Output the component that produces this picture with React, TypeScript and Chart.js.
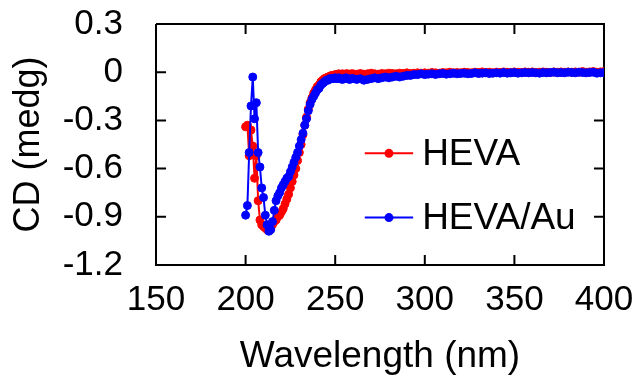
import React, { useEffect, useRef } from "react";
import { Chart, registerables } from "chart.js";

Chart.register(...registerables);

const wavelengths = [
  200, 201, 202, 203, 204, 205, 206, 207, 208, 209,
  210, 211, 212, 213, 214, 215, 216, 217, 218, 219,
  220, 221, 222, 223, 224, 225, 226, 227, 228, 229,
  230, 231, 232, 233, 234, 235, 236, 237, 238, 239,
  240, 241, 242, 243, 244, 245, 246, 247, 248, 249,
  250, 251, 252, 253, 254, 255, 256, 257, 258, 259, 260,
  262, 264, 266, 268, 270, 272, 274, 276, 278, 280,
  282, 284, 286, 288, 290, 292, 294, 296, 298, 300,
  302, 304, 306, 308, 310, 312, 314, 316, 318, 320,
  322, 324, 326, 328, 330, 332, 334, 336, 338, 340,
  342, 344, 346, 348, 350, 352, 354, 356, 358, 360,
  362, 364, 366, 368, 370, 372, 374, 376, 378, 380,
  382, 384, 386, 388, 390, 392, 394, 396, 398, 400,
];

const hevaCD = [
  -0.34, -0.33, -0.52, -0.36, -0.46, -0.66, -0.52, -0.80, -0.92, -0.95,
  -0.96, -0.97, -0.98, -0.98, -0.97, -0.95, -0.93, -0.92, -0.90, -0.89,
  -0.87, -0.85, -0.82, -0.79, -0.76, -0.72, -0.68, -0.64, -0.60, -0.55,
  -0.50, -0.45, -0.39, -0.33, -0.28, -0.23, -0.19, -0.16, -0.13, -0.11,
  -0.09, -0.08, -0.06, -0.05, -0.04, -0.035, -0.03, -0.025, -0.02, -0.02,
  -0.015, -0.015, -0.01, -0.015, -0.01, -0.015, -0.01, -0.01, -0.015, -0.01, -0.01,
  -0.012, -0.008, -0.012, -0.01, -0.006, -0.01, -0.012, -0.008, -0.01, -0.006,
  -0.008, -0.01, -0.006, -0.008, -0.004, -0.008, -0.006, -0.004, -0.006, -0.004,
  -0.006, -0.002, -0.004, -0.006, -0.002, -0.004, 0.0, -0.004, -0.002, -0.004,
  0.0, -0.002, -0.004, 0.0, -0.002, 0.002, -0.002, 0.0, -0.004, 0.0,
  -0.002, 0.002, 0.0, -0.002, 0.002, 0.0, -0.002, 0.002, 0.0, 0.002,
  -0.002, 0.0, 0.002, 0.0, -0.002, 0.002, 0.0, 0.002, 0.0, 0.002,
  0.0, 0.002, 0.0, 0.004, 0.0, 0.002, 0.004, 0.0, 0.002, 0.004,
];

const hevaAuCD = [
  -0.89, -0.83, -0.50, -0.21, -0.03, -0.29, -0.19, -0.50, -0.59, -0.72,
  -0.78, -0.89, -0.95, -0.99, -0.98, -0.93, -0.86, -0.80, -0.77, -0.75,
  -0.72, -0.70, -0.68, -0.66, -0.65, -0.62, -0.59, -0.56, -0.53, -0.50,
  -0.46, -0.42, -0.38, -0.33, -0.29, -0.24, -0.20, -0.17, -0.15, -0.13,
  -0.11, -0.10, -0.08, -0.07, -0.06, -0.05, -0.05, -0.04, -0.04, -0.04,
  -0.035, -0.04, -0.035, -0.04, -0.045, -0.04, -0.035, -0.04, -0.045, -0.04, -0.04,
  -0.045, -0.04, -0.05, -0.045, -0.04, -0.035, -0.04, -0.035, -0.03, -0.035,
  -0.03, -0.025, -0.03, -0.025, -0.02, -0.02, -0.015, -0.015, -0.01, -0.015,
  -0.012, -0.01, -0.014, -0.01, -0.008, -0.012, -0.01, -0.006, -0.01, -0.008,
  -0.006, -0.01, -0.008, -0.004, -0.008, -0.006, -0.004, -0.008, -0.006, -0.004,
  -0.006, -0.002, -0.006, -0.004, -0.002, -0.006, -0.004, -0.002, -0.004, -0.002,
  -0.004, -0.006, -0.002, -0.004, -0.002, 0.0, -0.004, -0.002, -0.004, 0.0,
  -0.002, -0.004, 0.0, -0.002, -0.004, -0.002, 0.0, -0.006, -0.004, -0.002,
];

const xTicks = [150, 200, 250, 300, 350, 400];
const yTicks = [-1.2, -0.9, -0.6, -0.3, 0, 0.3];

const seriesLabels = ["HEVA", "HEVA/Au"];
const seriesColors = ["#ff0000", "#0000ff"];

const FONT = "'Liberation Sans', Arial, sans-serif";

// tick-mark length expressed in axis units (about 10 px at this size)
const TICK_X = 5.6;
const TICK_Y = 0.062;

function buildFrame() {
  const x0 = xTicks[0];
  const x1 = xTicks[xTicks.length - 1];
  const y0 = yTicks[0];
  const y1 = yTicks[yTicks.length - 1];
  return [
    { x: x0, y: y1 },
    { x: x1, y: y1 },
    { x: x1, y: y0 },
    { x: x0, y: y0 },
    { x: x0, y: y1 },
  ];
}

function buildTickMarks() {
  const x0 = xTicks[0];
  const x1 = xTicks[xTicks.length - 1];
  const y0 = yTicks[0];
  const y1 = yTicks[yTicks.length - 1];
  const pts: any[] = [];
  xTicks.slice(1, -1).forEach((v) => {
    pts.push({ x: v, y: y0 }, { x: v, y: y0 + TICK_Y }, { x: v, y: null });
    pts.push({ x: v, y: y1 }, { x: v, y: y1 - TICK_Y }, { x: v, y: null });
  });
  yTicks.slice(1, -1).forEach((v) => {
    pts.push({ x: x0, y: v }, { x: x0 + TICK_X, y: v }, { x: x0, y: null });
    pts.push({ x: x1, y: v }, { x: x1 - TICK_X, y: v }, { x: x1, y: null });
  });
  return pts;
}

function drawLegend(chart: any) {
  const ctx = chart.ctx;
  const xs = chart.scales.x;
  const ys = chart.scales.y;
  const x0 = xs.getPixelForValue(266.5);
  const x1 = xs.getPixelForValue(293.5);
  const rows = [-0.505, -0.905];
  ctx.save();
  seriesLabels.forEach((label, i) => {
    const y = ys.getPixelForValue(rows[i]);
    ctx.strokeStyle = seriesColors[i];
    ctx.fillStyle = seriesColors[i];
    ctx.lineWidth = 2;
    ctx.beginPath();
    ctx.moveTo(x0, y);
    ctx.lineTo(x1, y);
    ctx.stroke();
    ctx.beginPath();
    ctx.arc((x0 + x1) / 2, y, 4.5, 0, Math.PI * 2);
    ctx.fill();
    ctx.fillStyle = "#000";
    ctx.font = `37px ${FONT}`;
    ctx.textBaseline = "middle";
    ctx.textAlign = "left";
    ctx.fillText(label, x1 + 9, y + 1);
  });
  ctx.restore();
}

const legendPlugin = {
  id: "innerLegend",
  afterDatasetsDraw(chart: any) {
    drawLegend(chart);
  },
};

export default function App() {
  const ref = useRef<HTMLCanvasElement>(null);

  useEffect(() => {
    document.body.style.margin = "0";
    const canvas = ref.current!;
    const order = [1, 0];
    const seriesSets: any[] = order.map((i) => ({
      label: seriesLabels[i],
      data: wavelengths.map((w, k) => ({ x: w, y: (i === 0 ? hevaCD : hevaAuCD)[k] })),
      borderColor: seriesColors[i],
      backgroundColor: seriesColors[i],
      borderWidth: 2,
      pointRadius: 4,
      pointBorderWidth: 1,
    }));
    const frameSets: any[] = [
      {
        label: "frame",
        data: buildFrame(),
        borderColor: "#000000",
        backgroundColor: "#000000",
        borderWidth: 2,
        pointRadius: 0,
        clip: false,
        borderJoinStyle: "miter",
      },
      {
        label: "ticks",
        data: buildTickMarks(),
        borderColor: "#000000",
        backgroundColor: "#000000",
        borderWidth: 2,
        pointRadius: 0,
        spanGaps: false,
        clip: false,
      },
    ];
    const chart = new Chart(canvas, {
      type: "line",
      data: { datasets: [...seriesSets, ...frameSets] },
      plugins: [legendPlugin],
      options: {
        animation: false,
        responsive: false,
        layout: { padding: { left: 7, top: 24, right: 35, bottom: 4 } },
        plugins: { legend: { display: false }, tooltip: { enabled: false } },
        scales: {
          x: {
            type: "linear",
            min: 150,
            max: 400,
            afterBuildTicks: (s: any) => {
              s.ticks = xTicks.map((v) => ({ value: v }));
            },
            grid: { display: false, drawTicks: false },
            border: { display: false },
            ticks: {
              color: "#000",
              font: { family: FONT, size: 35 },
              padding: 14,
              maxRotation: 0,
              autoSkip: false,
            },
            title: {
              display: true,
              text: "Wavelength (nm)",
              color: "#000",
              font: { family: FONT, size: 37 },
              padding: { top: 0, bottom: 4 },
            },
            afterFit: (s: any) => {
              s.height = 118;
              s.paddingLeft = 0;
              s.paddingRight = 0;
            },
          },
          y: {
            type: "linear",
            min: -1.2,
            max: 0.3,
            afterBuildTicks: (s: any) => {
              s.ticks = yTicks.map((v) => ({ value: v }));
            },
            grid: { display: false, drawTicks: false },
            border: { display: false },
            ticks: {
              color: "#000",
              font: { family: FONT, size: 35 },
              padding: 33,
              autoSkip: false,
              callback: (v: any) => String(Number(Number(v).toFixed(1))),
            },
            title: {
              display: true,
              text: "CD (medg)",
              color: "#000",
              font: { family: FONT, size: 36 },
              padding: { top: 0, bottom: 0 },
            },
            afterFit: (s: any) => {
              s.width = 149;
              s.paddingTop = 0;
              s.paddingBottom = 0;
            },
          },
        },
      },
    });
    return () => chart.destroy();
  }, []);

  return (
    <div style={{ width: 639, height: 387 }}>
      <canvas ref={ref} width={639} height={387} />
    </div>
  );
}
